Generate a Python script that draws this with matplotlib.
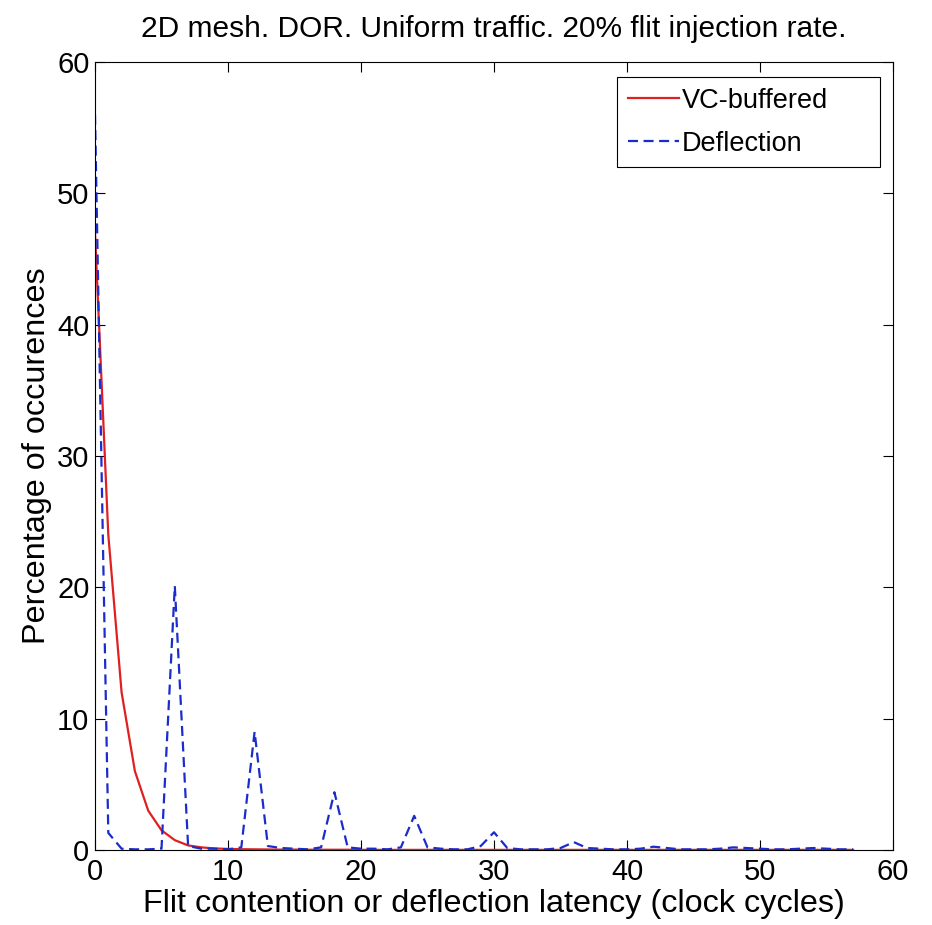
import numpy as np
import matplotlib
matplotlib.use('Agg')
import matplotlib.pyplot as plt

# latency in clock cycles
latency = np.arange(0, 58)

# percentage of occurences, VC-buffered router
vc_buffered = [47, 24, 12, 6, 3, 1.5, 0.75, 0.35, 0.2, 0.12,
               0.08, 0.06, 0.05, 0.04, 0.03, 0.03, 0.02, 0.02, 0.02, 0.02,
               0.01, 0.01, 0.01, 0.01, 0.01, 0.01, 0.01, 0.01, 0.01, 0.01,
               0.01, 0.01, 0.01, 0.01, 0.01, 0.01, 0.01, 0.01, 0.01, 0.01,
               0.01, 0.01, 0.01, 0.01, 0.01, 0.01, 0.01, 0.01, 0.01, 0.01,
               0.01, 0.01, 0.01, 0.01, 0.01, 0.01, 0.01, 0.01]

# percentage of occurences, deflection router
deflection = [56, 1.3, 0.1, 0.05, 0.05, 0.1, 20.1, 0.3, 0.1, 0.1,
              0.05, 0.2, 9.0, 0.3, 0.15, 0.1, 0.05, 0.2, 4.4, 0.2,
              0.1, 0.1, 0.05, 0.2, 2.6, 0.2, 0.1, 0.05, 0.05, 0.3,
              1.35, 0.15, 0.05, 0.05, 0.05, 0.15, 0.6, 0.15, 0.1, 0.05,
              0.05, 0.1, 0.25, 0.15, 0.05, 0.05, 0.05, 0.1, 0.2, 0.15,
              0.1, 0.05, 0.05, 0.1, 0.15, 0.1, 0.05, 0.05]

plt.rcParams['font.family'] = ['Liberation Sans', 'DejaVu Sans']

fig = plt.figure(figsize=(9.32, 9.25), dpi=100)
ax = fig.add_axes([95/932, 1-850/925, (893-95)/932, 788/925])

ax.plot(latency, vc_buffered, color='#e02020', lw=1.6, label='VC-buffered')
ax.plot(latency, deflection, color='#1a2ccc', lw=1.6, linestyle=(0, (4.5, 2.5)), label='Deflection')

ax.set_xlim(0, 60)
ax.set_ylim(0, 60)
ax.set_xticks(np.arange(0, 61, 10))
ax.set_yticks(np.arange(0, 61, 10))
ax.tick_params(direction='in', length=7, width=0.8, top=True, right=True, labelsize=21)
ax.tick_params(axis='x', pad=6)
ax.tick_params(axis='y', pad=4)
for s in ax.spines.values():
    s.set_linewidth(0.8)

ax.set_xlabel('Flit contention or deflection latency (clock cycles)', fontsize=23.3, labelpad=2)
ax.set_ylabel('Percentage of occurences', fontsize=23.3, labelpad=4)
ax.set_title('2D mesh. DOR. Uniform traffic. 20% flit injection rate.', fontsize=21.5, pad=18)

# MATLAB-style legend box, wider than its text
leg = ax.legend(loc='upper left', bbox_to_anchor=(0.654, 0.5, 0.33, 0.481), mode='expand',
                borderaxespad=0, fontsize=19.5, fancybox=False, edgecolor='black',
                framealpha=1, handlelength=1.9, handletextpad=0.1, labelspacing=0.62,
                borderpad=0.4)
leg.get_frame().set_linewidth(0.8)

fig.savefig('out.png', dpi=100)
